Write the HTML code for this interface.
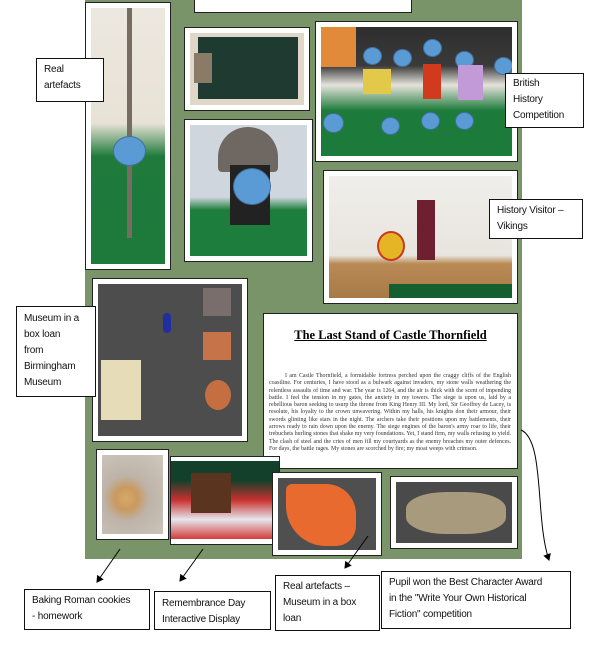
<!DOCTYPE html>
<html><head><meta charset="utf-8"><style>
body{margin:0;width:603px;height:647px;background:#fff;position:relative;overflow:hidden;font-family:"Liberation Sans",sans-serif}
.a{position:absolute;box-sizing:border-box}
.f{border:1.5px solid #222;background:#fff;padding:5px}
.p{width:100%;height:100%;position:relative;overflow:hidden}
.l{border:1px solid #111;background:#fff;font-size:10px;letter-spacing:-0.2px;line-height:16px;padding:3px 7px;color:#111;white-space:nowrap}
.face{position:absolute;border-radius:50%;background:#5b9bd5;border:1px solid #41719c}
</style></head><body>
<div class="a" style="left:85px;top:0;width:437px;height:559px;background:#7a946a"></div>
<div class="a f" style="left:194px;top:-2px;width:218px;height:15px"></div>
<!-- sword -->
<div class="a f" style="left:85px;top:2px;width:86px;height:268px"><div class="p" style="background:linear-gradient(#ece8e0 0,#e8e2d6 45%,#1f7a3c 58%,#1d7a3b 100%)">
<div class="a" style="left:36px;top:0;width:5px;height:230px;background:#776c62"></div>
<div class="face" style="left:22px;top:128px;width:31px;height:28px"></div></div></div>
<!-- tools -->
<div class="a f" style="left:184px;top:27px;width:126px;height:84px"><div class="p" style="background:#e0d7c8"><div class="a" style="left:8px;top:4px;width:100px;height:62px;background:#1f3a30"></div>
<div class="a" style="left:4px;top:20px;width:18px;height:30px;background:#8a7a68"></div></div></div>
<!-- helmet -->
<div class="a f" style="left:184px;top:119px;width:129px;height:143px"><div class="p" style="background:linear-gradient(#cfd6de 0,#cfd6de 55%,#1d7d3c 65%)">
<div class="a" style="left:28px;top:2px;width:60px;height:45px;border-radius:30px 30px 4px 4px;background:#6f6761"></div>
<div class="a" style="left:40px;top:40px;width:40px;height:60px;background:#222"></div>
<div class="face" style="left:43px;top:43px;width:36px;height:35px"></div></div></div>
<!-- british -->
<div class="a f" style="left:315px;top:21px;width:203px;height:141px"><div class="p" style="background:linear-gradient(#2e2e2e 0,#3a3a3a 30%,#e6e3dc 45%,#1c7a3a 65%,#1c7a3a 100%)">
<div class="a" style="left:0;top:0;width:35px;height:40px;background:#e08a3a"></div>
<div class="face" style="left:42px;top:20px;width:17px;height:16px"></div><div class="face" style="left:72px;top:22px;width:17px;height:16px"></div><div class="face" style="left:102px;top:12px;width:17px;height:16px"></div><div class="face" style="left:134px;top:24px;width:17px;height:16px"></div><div class="face" style="left:173px;top:30px;width:17px;height:16px"></div>
<div class="face" style="left:2px;top:86px;width:19px;height:18px"></div><div class="face" style="left:60px;top:90px;width:17px;height:16px"></div><div class="face" style="left:100px;top:85px;width:17px;height:16px"></div><div class="face" style="left:134px;top:85px;width:17px;height:16px"></div>
<div class="a" style="left:42px;top:42px;width:28px;height:25px;background:#e3c94a"></div><div class="a" style="left:102px;top:37px;width:18px;height:35px;background:#d23a1d"></div><div class="a" style="left:137px;top:38px;width:25px;height:35px;background:#c39ad8"></div></div></div>
<!-- vikings -->
<div class="a f" style="left:323px;top:170px;width:195px;height:134px"><div class="p" style="background:linear-gradient(#f0eeea 0,#e8e5df 65%,#b98a54 72%,#a77a48 100%)">
<div class="a" style="left:88px;top:24px;width:18px;height:60px;background:#6e2030"></div>
<div class="a" style="left:48px;top:55px;width:28px;height:30px;border-radius:50%;background:#e6b526;border:2px solid #c83a1c"></div>
<div class="a" style="left:60px;top:108px;width:125px;height:20px;background:#155e30"></div></div></div>
<!-- museum box -->
<div class="a f" style="left:92px;top:278px;width:156px;height:164px"><div class="p" style="background:#4d4d4d">
<div class="a" style="left:3px;top:76px;width:40px;height:60px;background:#e7dcb8"></div>
<div class="a" style="left:105px;top:4px;width:28px;height:28px;background:#7a6e6c"></div>
<div class="a" style="left:105px;top:48px;width:28px;height:28px;background:#c77349"></div>
<div class="a" style="left:107px;top:96px;width:26px;height:30px;border-radius:50%;background:#c46e42"></div>
<div class="a" style="left:65px;top:29px;width:8px;height:20px;border-radius:4px;background:#1f2fa0"></div></div></div>
<!-- document -->
<div class="a" style="left:263px;top:313px;width:255px;height:156px;border:1.5px solid #222;background:#fff">
<div style="font-family:'Liberation Serif',serif;font-weight:bold;font-size:12.5px;text-decoration:underline;text-align:center;margin-top:14px">The Last Stand of Castle Thornfield</div>
<div style="font-family:'Liberation Serif',serif;font-size:5.9px;line-height:7.3px;margin:30px 6px 0 5px;color:#333;text-align:justify;text-indent:16px">I am Castle Thornfield, a formidable fortress perched upon the craggy cliffs of the English coastline. For centuries, I have stood as a bulwark against invaders, my stone walls weathering the relentless assaults of time and war. The year is 1264, and the air is thick with the scent of impending battle. I feel the tension in my gates, the anxiety in my towers. The siege is upon us, laid by a rebellious baron seeking to usurp the throne from King Henry III. My lord, Sir Geoffrey de Lacey, is resolute, his loyalty to the crown unwavering. Within my halls, his knights don their armour, their swords glinting like stars in the night. The archers take their positions upon my battlements, their arrows ready to rain down upon the enemy. The siege engines of the baron's army roar to life, their trebuchets hurling stones that shake my very foundations. Yet, I stand firm, my walls refusing to yield. The clash of steel and the cries of men fill my courtyards as the enemy breaches my outer defences. For days, the battle rages. My stones are scorched by fire; my moat weeps with crimson.</div></div>
<!-- cookies -->
<div class="a f" style="left:96px;top:449px;width:73px;height:91px"><div class="p" style="background:radial-gradient(circle at 40% 55%,#d8a868 0,#c99a60 20%,#bdb3a8 40%,#d0c8bd 100%)"></div></div>
<!-- remembrance -->
<div class="a f" style="left:170px;top:456px;width:110px;height:89px;padding:4px 0 5px 0"><div class="p" style="background:linear-gradient(#12402a 0,#12402a 25%,#c8302e 50%,#e6e6ee 75%,#d43b3a 100%)">
<div class="a" style="left:20px;top:12px;width:40px;height:40px;background:#5b3420"></div></div></div>
<!-- sherd -->
<div class="a f" style="left:272px;top:472px;width:110px;height:84px"><div class="p" style="background:#4f4f4f"><div class="a" style="left:8px;top:6px;width:70px;height:62px;background:#e86a2e;border-radius:6px 30px 20px 40px"></div></div></div>
<!-- lamp -->
<div class="a f" style="left:390px;top:476px;width:128px;height:73px"><div class="p" style="background:#4a4a4a"><div class="a" style="left:10px;top:10px;width:100px;height:42px;border-radius:40%;background:#a89a7c"></div></div></div>
<!-- labels -->
<div class="a l" style="left:36px;top:58px;width:68px;height:44px;padding-top:3px">Real<br>artefacts</div>
<div class="a l" style="left:505px;top:73px;width:79px;height:55px;padding-top:2px">British<br>History<br>Competition</div>
<div class="a l" style="left:489px;top:199px;width:94px;height:40px;padding-top:3px">History Visitor –<br>Vikings</div>
<div class="a l" style="left:16px;top:306px;width:80px;height:91px;padding-top:4px">Museum in a<br>box loan<br>from<br>Birmingham<br>Museum</div>
<div class="a l" style="left:24px;top:589px;width:126px;height:41px;padding-top:3px">Baking Roman cookies<br>- homework</div>
<div class="a l" style="left:154px;top:591px;width:117px;height:39px;padding-top:4px">Remembrance Day<br>Interactive Display</div>
<div class="a l" style="left:275px;top:575px;width:105px;height:56px;padding-top:3px">Real artefacts –<br>Museum in a box<br>loan</div>
<div class="a l" style="left:381px;top:571px;width:190px;height:58px;padding-top:3px">Pupil won the Best Character Award<br>in the "Write Your Own Historical<br>Fiction" competition</div>
<svg class="a" style="left:0;top:0" width="603" height="647">
<defs><marker id="m" markerWidth="8" markerHeight="8" refX="6" refY="4" orient="auto"><path d="M0,0 L7,4 L0,8 Z" fill="#000"/></marker></defs>
<g stroke="#000" stroke-width="1" fill="none">
<line x1="120" y1="549" x2="97" y2="582" marker-end="url(#m)"/>
<line x1="203" y1="549" x2="180" y2="581" marker-end="url(#m)"/>
<line x1="368" y1="536" x2="345" y2="568" marker-end="url(#m)"/>
<path d="M521,430 C545,440 535,520 549,560" marker-end="url(#m)"/>
</g></svg>
</body></html>
